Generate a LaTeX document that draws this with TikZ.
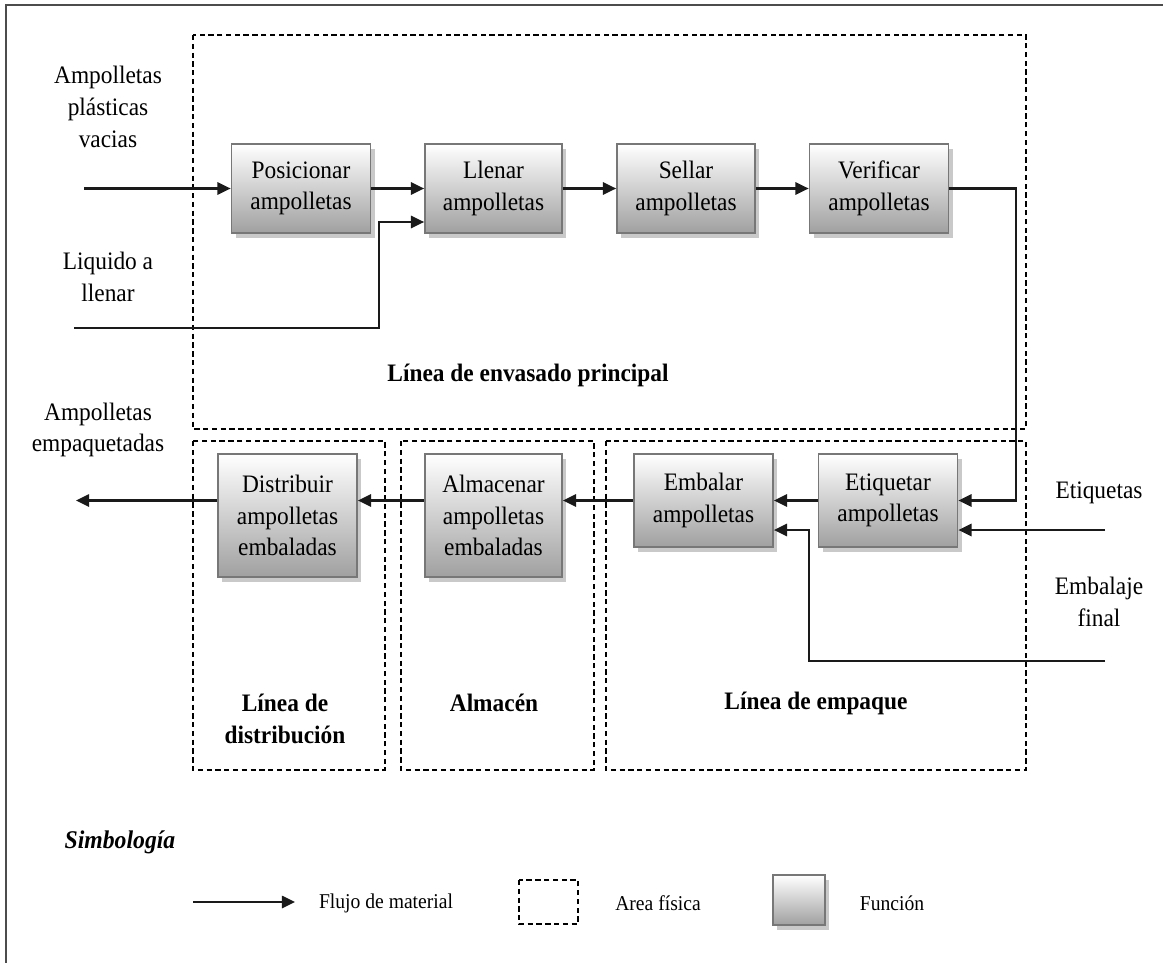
\documentclass[tikz,border=0pt]{standalone}
\usepackage{fontspec}
\setmainfont{Liberation Serif}[FakeStretch=0.93]
\usetikzlibrary{arrows.meta,shadows,calc}
\definecolor{boxbot}{HTML}{A0A0A0}
\definecolor{boxline}{HTML}{777777}
\definecolor{flowc}{HTML}{1A1A1A}
\tikzset{
  func/.style={draw=boxline, line width=1pt, top color=white, bottom color=boxbot,
    minimum width=2.78cm, inner sep=0pt, align=center,
    font=\fontsize{14.3}{18}\selectfont,
    drop shadow={shadow xshift=2.5pt, shadow yshift=-3pt, opacity=0.35, fill=black!60}},
  area/.style={draw=black, line width=0.8pt, dash pattern=on 3pt off 2pt},
  flow/.style={draw=flowc, line width=1.25pt, -{Triangle[length=7.5pt,width=7pt]}},
  lbl/.style={align=center, inner sep=0pt, font=\fontsize{14.3}{18}\selectfont},
  blbl/.style={align=center, inner sep=0pt, font=\fontsize{14.3}{18}\selectfont\bfseries},
  leg/.style={inner sep=0pt, font=\fontsize{12}{14}\selectfont}
}
\begin{document}
\begin{tikzpicture}[x=0.02cm,y=-0.02cm]
\useasboundingbox (0,0) rectangle (1163,963);
\fill[white] (0,0) rectangle (1163,963);
% outer frame
\draw[draw=black!70, line width=1.3pt] (6,1000) -- (6,5) -- (1200,5);

% areas
\draw[area] (193,35) rectangle (1026,429);
\draw[area] (193,441) rectangle (385,770);
\draw[area] (401,441) rectangle (594,770);
\draw[area] (606,441) rectangle (1026,770);

% function boxes
\node[func, minimum height=1.78cm] (pos) at (301,188.5) {Posicionar\\ampolletas};
\node[func, minimum height=1.78cm, minimum width=2.74cm] (lle) at (493.5,188.5) {Llenar\\ampolletas};
\node[func, minimum height=1.78cm, minimum width=2.76cm] (sel) at (686,188.5) {Sellar\\ampolletas};
\node[func, minimum height=1.78cm] (ver) at (879,188.5) {Verificar\\ampolletas};
\node[func, minimum height=2.46cm] (dis) at (287.5,515.5) {Distribuir\\ampolletas\\embaladas};
\node[func, minimum height=2.46cm, minimum width=2.74cm] (alm) at (493.5,515.5) {Almacenar\\ampolletas\\embaladas};
\node[func, minimum height=1.86cm] (emb) at (703.5,500.5) {Embalar\\ampolletas};
\node[func, minimum height=1.86cm] (eti) at (888,500.5) {Etiquetar\\ampolletas};

% external texts
\node[lbl] (tin1) at (108,107) {Ampolletas\\plásticas\\vacias};
\node[lbl] (tin2) at (108,277) {Liquido a\\llenar};
\node[lbl] (tout) at (98,430) {Ampolletas\\empaquetadas};
\node[lbl] (tin3) at (1099,493) {Etiquetas};
\node[lbl] (tin4) at (1099,602) {Embalaje\\final};

% area labels
\node[blbl] (a1) at (528,375) {Línea de envasado principal};
\node[blbl] (a2) at (285,719) {Línea de\\distribución};
\node[blbl] (a3) at (494,703) {Almacén};
\node[blbl] (a4) at (816,703) {Línea de empaque};

% coordinates
\coordinate (in1) at (84,188.5);
\coordinate (in2) at (74,328);
\coordinate (liqturn) at (379,222);
\coordinate (verturn) at (1016,500.5);
\coordinate (in3) at (1105,530);
\coordinate (in4) at (1105,661);
\coordinate (embturn) at (809,530);
\coordinate (lr) at (0,500.5);
\coordinate (out) at (76,500.5);

% flows
\draw[flow] (in1) -- (pos.west);
\draw[flow] (pos.east) -- (lle.west);
\draw[flow] (lle.east) -- (sel.west);
\draw[flow] (sel.east) -- (ver.west);
\draw[flow] (in2) -| (liqturn) -- (lle.west |- liqturn);
\draw[flow] (ver.east) -| (verturn) -- (eti.east |- verturn);
\draw[flow] (in3) -- (eti.east |- in3);
\draw[flow] (eti.west) -- (emb.east);
\draw[flow] (in4) -| (embturn) -- (emb.east |- embturn);
\draw[flow] (emb.west) -- (alm.east |- lr);
\draw[flow] (alm.west |- lr) -- (dis.east |- lr);
\draw[flow] (dis.west |- lr) -- (out);

% legend
\node[inner sep=0pt, font=\fontsize{14.5}{16}\selectfont\bfseries\itshape] (simb) at (120,842) {Simbología};
\coordinate (la) at (193,902);
\coordinate (lb) at (295,902);
\draw[flow] (la) -- (lb);
\node[leg] (t1) at (386,903) {Flujo de material};
\draw[area] (519,880) rectangle (578,924);
\node[leg] (t2) at (658,903) {Area física};
\node[func, minimum width=1.04cm, minimum height=1.0cm] (lf) at (799,900) {};
\node[leg] (t3) at (892,903) {Función};
\end{tikzpicture}
\end{document}
